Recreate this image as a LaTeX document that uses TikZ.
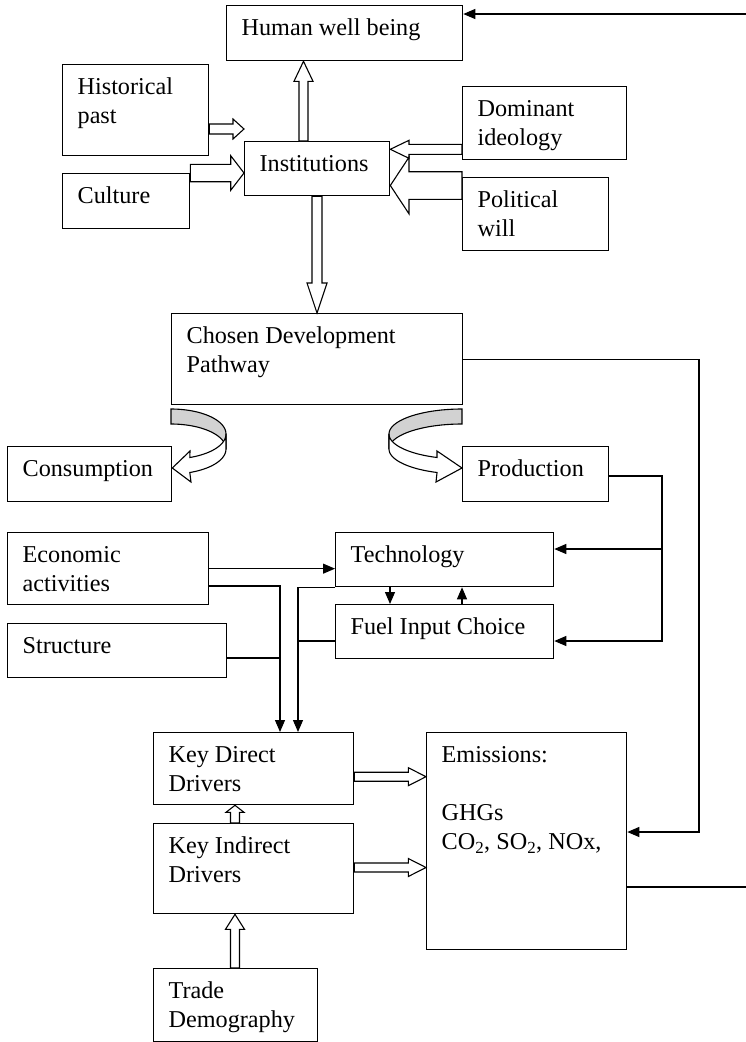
\documentclass[tikz,border=0pt]{standalone}
\usepackage{fontspec}
\setmainfont{Liberation Serif}
\usetikzlibrary{arrows.meta,calc}

% text block of a box: width, height, lines
\newcommand{\boxtext}[3]{\parbox[t][#2pt][t]{#1pt}{\raggedright\leftskip=15pt\hyphenpenalty=10000\rule{0pt}{30pt}#3}}

% hollow block arrow: tail, tip, shaft half width, head half width, head length
\newcommand{\hollowarrow}[5]{%
  \path (#1) coordinate (ha-t) (#2) coordinate (ha-p);
  \draw[hollow] ($(ha-t)!#3pt!90:(ha-p)$)
    -- ($(ha-p)!#5pt!(ha-t)!#3pt!90:(ha-p)$)
    -- ($(ha-p)!#5pt!(ha-t)!#4pt!90:(ha-p)$)
    -- (ha-p)
    -- ($(ha-p)!#5pt!(ha-t)!#4pt!-90:(ha-p)$)
    -- ($(ha-p)!#5pt!(ha-t)!#3pt!-90:(ha-p)$)
    -- ($(ha-t)!#3pt!-90:(ha-p)$) -- cycle;}

\begin{document}
\begin{tikzpicture}[
    x=1pt, y=-1pt,
    every node/.style={font=\fontsize{24.2}{29}\selectfont},
    box/.style={rectangle, draw, line width=1.3pt, inner sep=0pt, anchor=north west},
    flow/.style={-{Triangle[length=12pt,width=10pt]}, line width=1.1pt},
    link/.style={line width=1.1pt},
    hollow/.style={draw, fill=white, line width=1.1pt, line join=miter},
    band/.style={draw, fill=gray!35, line width=1.1pt}
]
\path[use as bounding box, fill=white] (0,0) rectangle (746,1042);

% Top part
\node[box] (hwb) at (226,5) {\boxtext{236}{55}{Human well being}};
\node[box] (hist) at (62,64) {\boxtext{146}{91}{Historical\\past}};
\node[box] (cult) at (62,173) {\boxtext{127}{55}{Culture}};
\node[box] (inst) at (244,141) {\boxtext{145}{54}{Institutions}};
\node[box] (dom) at (462,86) {\boxtext{164}{73}{Dominant\\ideology}};
\node[box] (pol) at (462,177) {\boxtext{146}{73}{Political\\will}};
\node[box] (cdp) at (171,313) {\boxtext{291}{91}{Chosen Development\\Pathway}};

% Consumption and production
\node[box] (cons) at (7,446) {\boxtext{164}{55}{Consumption}};
\node[box] (prod) at (462,446) {\boxtext{146}{55}{Production}};

% Middle part
\node[box] (econ) at (7,532) {\boxtext{201}{72}{Economic\\activities}};
\node[box] (tech) at (335,532) {\boxtext{218}{54}{Technology}};
\node[box] (fuel) at (335,604) {\boxtext{218}{54}{Fuel Input Choice}};
\node[box] (struc) at (7,623) {\boxtext{219}{54}{Structure}};

% Drivers and emissions
\node[box] (kdd) at (153,732) {\boxtext{200}{72}{Key Direct\\Drivers}};
\node[box] (kid) at (153,823) {\boxtext{200}{90}{Key Indirect\\Drivers}};
\node[box] (emis) at (426,732) {\boxtext{200}{217}{Emissions:\\\mbox{}\\GHGs\\CO\textsubscript{2}, SO\textsubscript{2}, NOx,}};
\node[box] (trade) at (153,968) {\boxtext{164}{73}{Trade\\Demography}};

% Feedback loop at the page edge
\coordinate (edgetop) at (746,14);
\coordinate (edgebot) at (746,887);
\draw[flow] (edgetop) -- (hwb.east |- edgetop);
\draw[link] (emis.east |- edgebot) -- (edgebot);

% Hollow arrows
\hollowarrow{inst.north -| 303.5,0}{hwb.south -| 303.5,0}{4.5}{9.5}{20}
\hollowarrow{hist.east |- 0,129}{inst.west |- 0,129}{5}{10}{11}
\hollowarrow{cult.east |- 0,173}{inst.west |- 0,173}{8.7}{17.3}{13.3}
\hollowarrow{dom.west |- 0,149.3}{inst.east |- 0,149.3}{5}{9}{18.7}
\hollowarrow{pol.west |- 0,185.5}{inst.east |- 0,185.5}{13.8}{28.3}{18.7}
\hollowarrow{inst.south -| 317,0}{cdp.north -| 317,0}{5}{10}{30}
\hollowarrow{kdd.east |- 0,776.7}{emis.west |- 0,776.7}{4.5}{9}{17.7}
\hollowarrow{kid.east |- 0,867.5}{emis.west |- 0,867.5}{4.5}{9}{17.7}
\hollowarrow{kid.north -| 235,0}{kdd.south -| 235,0}{4.5}{9}{7}
\hollowarrow{trade.north -| 235,0}{kid.south -| 235,0}{4.5}{9.5}{15}

% U-turn arrows under the pathway
\draw[band] plot[domain=-90:0,samples=30] ({171+55*cos(\x)},{434+25*sin(\x)})
  -- plot[domain=0:-90,samples=30] ({171+55*cos(\x)},{449+25*sin(\x)}) -- cycle;
\draw[hollow] plot[domain=0:70,samples=25] ({171+55*cos(\x)},{434+25*sin(\x)})
  -- (190,451) -- (cons.east |- 0,468) -- (191,482)
  -- plot[domain=70:0,samples=25] ({171+55*cos(\x)},{449+25*sin(\x)}) -- cycle;
\draw[band] plot[domain=-90:0,samples=30] ({462-73*cos(\x)},{434+25*sin(\x)})
  -- plot[domain=0:-90,samples=30] ({462-73*cos(\x)},{449+25*sin(\x)}) -- cycle;
\draw[hollow] plot[domain=0:70,samples=25] ({462-73*cos(\x)},{434+25*sin(\x)})
  -- (437,451) -- (prod.west |- 0,468) -- (436,482)
  -- plot[domain=70:0,samples=25] ({462-73*cos(\x)},{449+25*sin(\x)}) -- cycle;

% Line arrows
\draw[flow] (cdp.east) -| (699,832) -- (emis.east |- 0,832);
\draw[flow] (prod.east |- 0,476) -| (662,641) -- (fuel.east |- 0,641);
\draw[flow] (662,549) -- (tech.east |- 0,549);
\draw[flow] (econ.east) -- (tech.west |- econ.east);
\draw[flow] (econ.east |- 0,586) -| (kdd.north -| 280,0);
\draw[link] (struc.east |- 0,658) -- (280,658);
\draw[flow] (tech.south west) -| (kdd.north -| 298,0);
\draw[link] (fuel.west |- 0,641) -- (298,641);
\draw[flow] (tech.south -| 390,0) -- (fuel.north -| 390,0);
\draw[flow] (fuel.north -| 462,0) -- (tech.south -| 462,0);

\end{tikzpicture}
\end{document}
